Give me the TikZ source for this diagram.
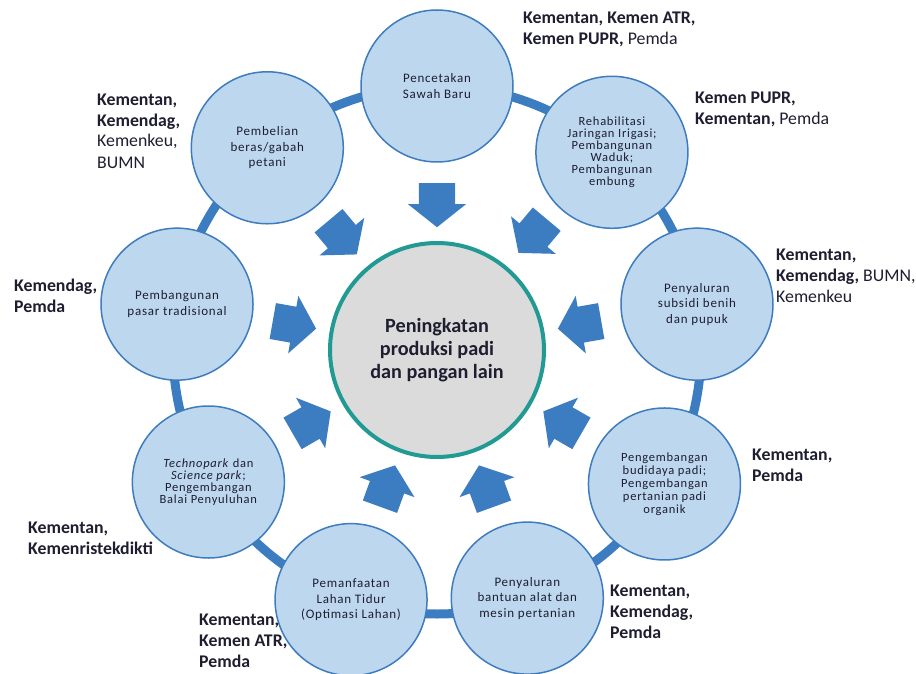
\documentclass[tikz,border=0pt]{standalone}
\usepackage{fontspec}
\setmainfont{Carlito}
\newfontfamily\kegfont[LetterSpace=6]{Carlito}
\usetikzlibrary{shapes.arrows}
\definecolor{ringblue}{RGB}{59,125,192}
\definecolor{kegfill}{RGB}{189,215,238}
\definecolor{kegline}{RGB}{62,124,189}
\definecolor{pusatfill}{RGB}{219,219,219}
\definecolor{pusatline}{RGB}{32,154,146}
\definecolor{teksgelap}{RGB}{30,30,48}
\tikzset{
  keg/.style={circle,draw=kegline,line width=1.5pt,fill=kegfill,minimum size=152pt,inner sep=0pt,
    align=center,text=teksgelap,font=\kegfont\fontsize{13}{15.5}\selectfont},
  kegrapat/.style={keg,font=\kegfont\fontsize{12.5}{12}\selectfont},
  pusat/.style={circle,draw=pusatline,line width=4pt,fill=pusatfill,minimum size=214pt,inner sep=0pt,
    align=center,text=teksgelap,font=\bfseries\fontsize{20.2}{22.7}\selectfont},
  lab/.style={anchor=base west,align=left,inner sep=0pt,text=teksgelap,font=\bfseries\fontsize{17.8}{21}\selectfont},
  panah/.style={single arrow,fill=ringblue,draw=none,inner xsep=0pt,inner ysep=18pt,minimum height=44pt,
    minimum width=58pt,single arrow head extend=11pt,single arrow tip angle=103}
}
\begin{document}
\begin{tikzpicture}[x=1pt,y=1pt]
\path[use as bounding box] (0,0) rectangle (916,-674);
\node(NC)[pusat] at (437,-350) {Peningkatan\\produksi padi\\dan pangan lain};
\draw[ringblue,line width=9pt] (NC.center) circle (264pt);
\node(NK1)[keg] at ([shift={(90:264pt)}]NC.center) {Pencetakan\\Sawah Baru};
\node(NK2)[kegrapat] at ([shift={(48.5:264pt)}]NC.center) {Rehabilitasi\\Jaringan Irigasi;\\Pembangunan\\Waduk;\\Pembangunan\\embung};
\node(NK3)[keg] at ([shift={(10:264pt)}]NC.center) {Penyaluran\\subsidi benih\\dan pupuk};
\node(NK4)[keg,font=\kegfont\fontsize{12.5}{13}\selectfont] at ([shift={(-30.5:264pt)}]NC.center) {Pengembangan\\budidaya padi;\\Pengembangan\\pertanian padi\\organik};
\node(NK5)[keg] at ([shift={(-70:264pt)}]NC.center) {Penyaluran\\bantuan alat dan\\mesin pertanian};
\node(NK6)[keg] at ([shift={(-109:264pt)}]NC.center) {Pemanfaatan\\Lahan Tidur\\(Optimasi Lahan)};
\node(NK7)[kegrapat] at ([shift={(-150:264pt)}]NC.center) {\textit{Technopark} dan\\\textit{Science park};\\Pengembangan\\Balai Penyuluhan};
\node(NK8)[keg] at ([shift={(170:264pt)}]NC.center) {Pembangunan\\pasar tradisional};
\node(NK9)[keg] at ([shift={(130:264pt)}]NC.center) {Pembelian\\beras/gabah\\petani};
\node(NA1)[panah,rotate=270] at ([shift={(90:152pt)}]NC.center) {};
\node(NA2)[panah,rotate=230] at ([shift={(50:156pt)}]NC.center) {};
\node(NA3)[panah,rotate=190] at ([shift={(10:152pt)}]NC.center) {};
\node(NA4)[panah,rotate=150] at ([shift={(-30:152pt)}]NC.center) {};
\node(NA5)[panah,rotate=110] at ([shift={(-70:152pt)}]NC.center) {};
\node(NA6)[panah,rotate=70] at ([shift={(-110:152pt)}]NC.center) {};
\node(NA7)[panah,rotate=30] at ([shift={(-150:152pt)}]NC.center) {};
\node(NA8)[panah,rotate=350] at ([shift={(170:152pt)}]NC.center) {};
\node(NA9)[panah,rotate=310] at ([shift={(130:154pt)}]NC.center) {};
\node(NL1)[lab] at (523,-45) {Kementan, Kemen ATR,\\Kemen PUPR, {\mdseries Pemda}};
\node(NL2)[lab] at (695,-125) {Kemen PUPR,\\Kementan, {\mdseries Pemda}};
\node(NL3)[lab] at (776,-302) {Kementan,\\Kemendag, {\mdseries BUMN,}\\{\mdseries Kemenkeu}};
\node(NL4)[lab] at (752,-481) {Kementan,\\Pemda};
\node(NL5)[lab] at (610,-638) {Kementan,\\Kemendag,\\Pemda};
\node(NL6)[lab] at (199,-667) {Kementan,\\Kemen ATR,\\Pemda};
\node(NL7)[lab] at (28,-554) {Kementan,\\Kemenristekdikti};
\node(NL8)[lab] at (14,-312) {Kemendag,\\Pemda};
\node(NL9)[lab] at (97,-168) {Kementan,\\Kemendag,\\{\mdseries Kemenkeu,}\\{\mdseries BUMN}};
\end{tikzpicture}
\end{document}
